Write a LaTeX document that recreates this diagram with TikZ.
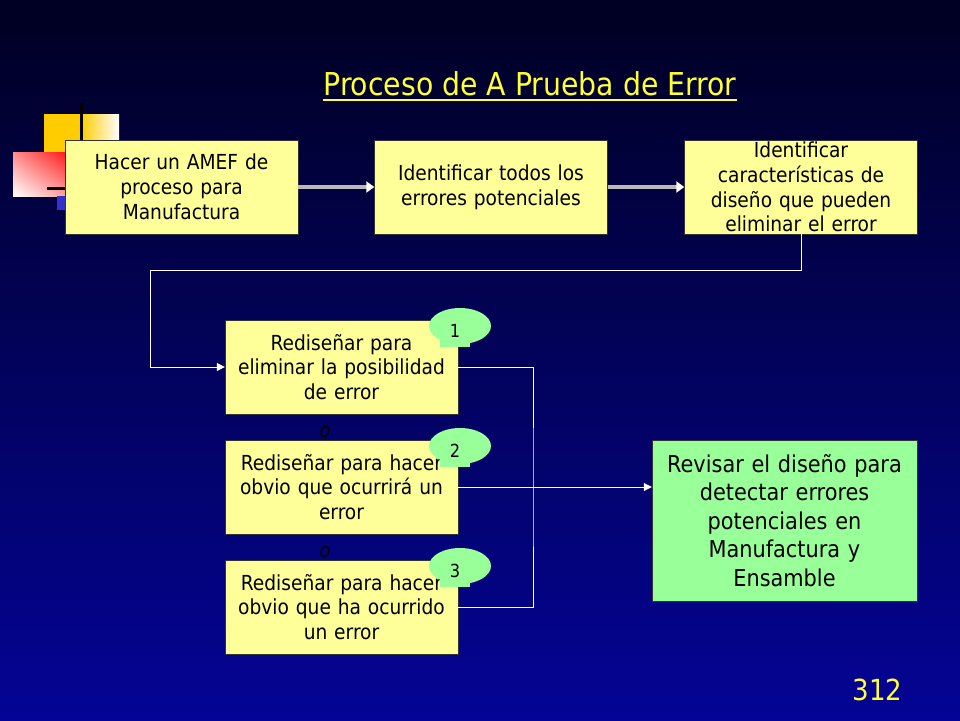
\documentclass[tikz,border=0pt]{standalone}
\usepackage{fontspec}
\setmainfont{DejaVu Sans Condensed}
\usetikzlibrary{shapes.geometric,arrows.meta,shadings}
\definecolor{boxyellow}{HTML}{FFFF99}
\definecolor{boxgreen}{HTML}{99FF99}
\definecolor{titleyellow}{HTML}{FFFF33}
\definecolor{navytop}{RGB}{0,0,34}
\definecolor{navybottom}{RGB}{4,4,150}
\definecolor{cornergold}{HTML}{FFCC00}
\definecolor{cornerblue}{HTML}{3333CC}
\def\rowsep{120}

\begin{document}
\begin{tikzpicture}[x=1pt,y=-1pt]
        \tikzstyle{stage}=[rectangle,fill=boxyellow,draw=black!80,minimum width=233pt,minimum height=94pt,
            text width=228pt,align=center,inner sep=0pt,font=\fontsize{20.7}{24.8}\selectfont]
        \tikzstyle{review}=[stage,fill=boxgreen,minimum width=265pt,minimum height=161pt,
            text width=258pt,font=\fontsize{23.2}{28.5}\selectfont]
        \tikzstyle{badge}=[ellipse,fill=boxgreen,minimum width=62pt,minimum height=36pt,inner sep=0pt]
        \tikzstyle{tail}=[rectangle,fill=boxgreen,minimum width=30pt,minimum height=12pt,inner sep=0pt]
        \tikzstyle{num}=[inner sep=0pt,font=\fontsize{18}{20}\selectfont]
        \tikzstyle{flow}=[draw=gray!55!white,line width=4pt,-{Triangle[length=8pt,width=11pt,color=white]}]
        \tikzstyle{link}=[draw=white,line width=1pt]
        \tikzstyle{annot}=[font=\itshape\fontsize{20}{22}\selectfont]
        \useasboundingbox (0,0) rectangle (960,720);
        % background
        \fill[top color=navytop,bottom color=navybottom] (0,0) rectangle (960,720);
        % corner ornament
        \fill[cornergold] (44,114) rectangle (81,160);
        \fill[left color=cornergold,right color=white] (81,114) rectangle (119,160);
        \shade[upper right=red,lower left=white,upper left=red!45!white,lower right=red!45!white]
            (13,152) rectangle (78,196);
        \fill[cornerblue] (57,196) rectangle (66,210);
        \draw[black,line width=3pt] (81,103) -- (81,150);
        \draw[black,line width=3pt] (47,188) -- (70,188);
        % title
        \node[anchor=base,text=titleyellow,inner xsep=0pt,font=\fontsize{31.5}{36}\selectfont] (title) at (530,95)
            {Proceso de A Prueba de Error};
        \draw[titleyellow,line width=2pt] ([yshift=-5pt]title.base west) -- ([yshift=-5pt]title.base east);
        % first row
        \node[stage] (amef) at (181.5,187) {Hacer un AMEF de\\proceso para\\Manufactura};
        \node[stage] (errores) at (491,187) {Identificar todos los\\errores potenciales};
        \node[stage] (caract) at (801,187) {Identificar\\características de\\diseño que pueden\\eliminar el error};
        \path[flow] (amef) -- (errores);
        \path[flow] (errores) -- (caract);
        % redesign options
        \foreach \name / \y / \txt in {1/367/{Rediseñar para\\eliminar la posibilidad\\de error},
                                       2/487/{Rediseñar para hacer\\obvio que ocurrirá un\\error},
                                       3/607/{Rediseñar para hacer\\obvio que ha ocurrido\\un error}}
            \node[stage] (R-\name) at (341.5,\y) {\txt};
        \foreach \name in {1,2,3}
        {
            \node[tail] (T-\name) at (455,{221+\rowsep*\name}) {};
            \node[badge] (B-\name) at (460,{206+\rowsep*\name}) {};
            \node[num] (N-\name) at (455,{211+\rowsep*\name}) {\name};
        }
        \node[annot] (o-1) at (325,432) {o};
        \node[annot] (o-2) at (325,552) {o};
        \node[review] (revisar) at (784.5,520.5)
            {Revisar el diseño para\\detectar errores\\potenciales en\\Manufactura y\\Ensamble};
        % connectors
        \coordinate (back) at (150,270);
        \coordinate (bus) at (533,487);
        \draw[link,-{Triangle[length=8pt,width=8pt]}] (caract.south) |- (back) |- (R-1.west);
        \draw[link] (R-1.east) -| (bus) |- (R-3.east);
        \draw[link,-{Triangle[length=8pt,width=8pt]}] (R-2.east) -- (R-2.east -| revisar.west);
        % slide number
        \node[anchor=base,text=titleyellow,font=\fontsize{29}{34}\selectfont] (page) at (877.5,700) {312};
\end{tikzpicture}
\end{document}
